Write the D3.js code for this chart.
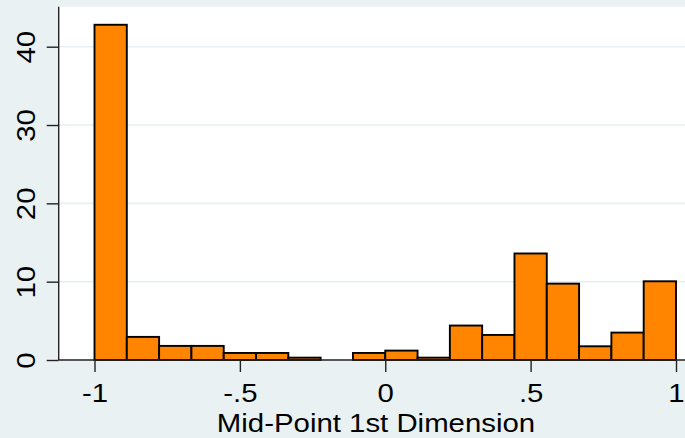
<!DOCTYPE html>
<html>
<head>
<meta charset="utf-8">
<script src="https://cdn.jsdelivr.net/npm/d3@7/dist/d3.min.js"></script>
<style>
  html, body { margin: 0; padding: 0; background: #eaf1f3; }
  svg { display: block; }
  text { font-family: "Liberation Sans", Arial, Helvetica, sans-serif; fill: #000; }
</style>
</head>
<body>
<script>
// ---- data ----
const binStart = -1;
const binWidth = 2 / 18;
const percents = [42.8, 2.95, 1.8, 1.8, 0.9, 0.9, 0.3, 0, 0.9, 1.2, 0.3, 4.4, 3.2, 13.6, 9.75, 1.75, 3.5, 10.05];
const xTicks = [-1, -0.5, 0, 0.5, 1];
const xTickLabels = ["-1", "-.5", "0", ".5", "1"];
const yTicks = [0, 10, 20, 30, 40];
const yTickLabels = ["0", "10", "20", "30", "40"];
const xTitle = "Mid-Point 1st Dimension";

const W = 685, H = 438;
const svg = d3.select("body").append("svg").attr("width", W).attr("height", H);

// scales
const x = d3.scaleLinear().domain([-1, 1]).range([94.5, 676]);
const y = d3.scaleLinear().domain([0, 40]).range([360, 46.7]);
const plotLeft = 58.7, plotRight = W, plotTop = 6.7, plotBottom = y(0);

// graph region background
svg.append("rect").attr("width", W).attr("height", H).attr("fill", "#eaf1f3");
// plot region
svg.append("rect").attr("x", plotLeft).attr("y", plotTop)
  .attr("width", plotRight - plotLeft).attr("height", plotBottom - plotTop)
  .attr("fill", "#ffffff");

// gridlines
svg.append("g").selectAll("line").data(yTicks.filter(d => d > 0)).join("line")
  .attr("x1", plotLeft).attr("x2", plotRight)
  .attr("y1", d => y(d)).attr("y2", d => y(d))
  .attr("stroke", "#e6eff1").attr("stroke-width", 1.6);

// bars
const bins = percents.map((v, i) => ({ x0: binStart + i * binWidth, x1: binStart + (i + 1) * binWidth, v }));
svg.append("g").selectAll("rect").data(bins.filter(b => b.v > 0)).join("rect")
  .attr("x", d => x(d.x0)).attr("width", d => x(d.x1) - x(d.x0))
  .attr("y", d => y(d.v)).attr("height", d => y(0) - y(d.v))
  .attr("fill", "#ff8400").attr("stroke", "#000").attr("stroke-width", 1.9);

// axes
const sx = 1.13;
const fs = "26px";
const yAxis = d3.axisLeft(y).tickValues(yTicks).tickSize(12).tickFormat((d, i) => yTickLabels[i]);
const gy = svg.append("g").attr("transform", `translate(${plotLeft},0)`).call(yAxis);
gy.select(".domain").remove();
gy.selectAll(".tick line").attr("stroke", "#222").attr("stroke-width", 1.4);
gy.selectAll(".tick text")
  .attr("x", null).attr("dy", null)
  .attr("text-anchor", "middle")
  .style("font-size", fs)
  .attr("transform", `translate(${35 - plotLeft},0) rotate(-90) scale(${sx},1)`);
svg.append("line").attr("x1", plotLeft).attr("x2", plotLeft).attr("y1", plotTop).attr("y2", plotBottom)
  .attr("stroke", "#222").attr("stroke-width", 1.4);

const xAxis = d3.axisBottom(x).tickValues(xTicks).tickSize(12).tickFormat((d, i) => xTickLabels[i]);
const gx = svg.append("g").attr("transform", `translate(0,${plotBottom})`).call(xAxis);
gx.select(".domain").remove();
gx.selectAll(".tick line").attr("stroke", "#222").attr("stroke-width", 1.4);
gx.selectAll(".tick text")
  .attr("y", null).attr("dy", null)
  .attr("text-anchor", "middle")
  .style("font-size", fs)
  .attr("transform", `translate(0,${401.7 - plotBottom}) scale(${sx},1)`);
svg.append("line").attr("x1", plotLeft).attr("x2", plotRight).attr("y1", plotBottom).attr("y2", plotBottom)
  .attr("stroke", "#222").attr("stroke-width", 1.4);

// x title
svg.append("text")
  .attr("text-anchor", "middle")
  .style("font-size", fs)
  .attr("transform", `translate(376,432.3) scale(${sx},1)`)
  .text(xTitle);
</script>
</body>
</html>
